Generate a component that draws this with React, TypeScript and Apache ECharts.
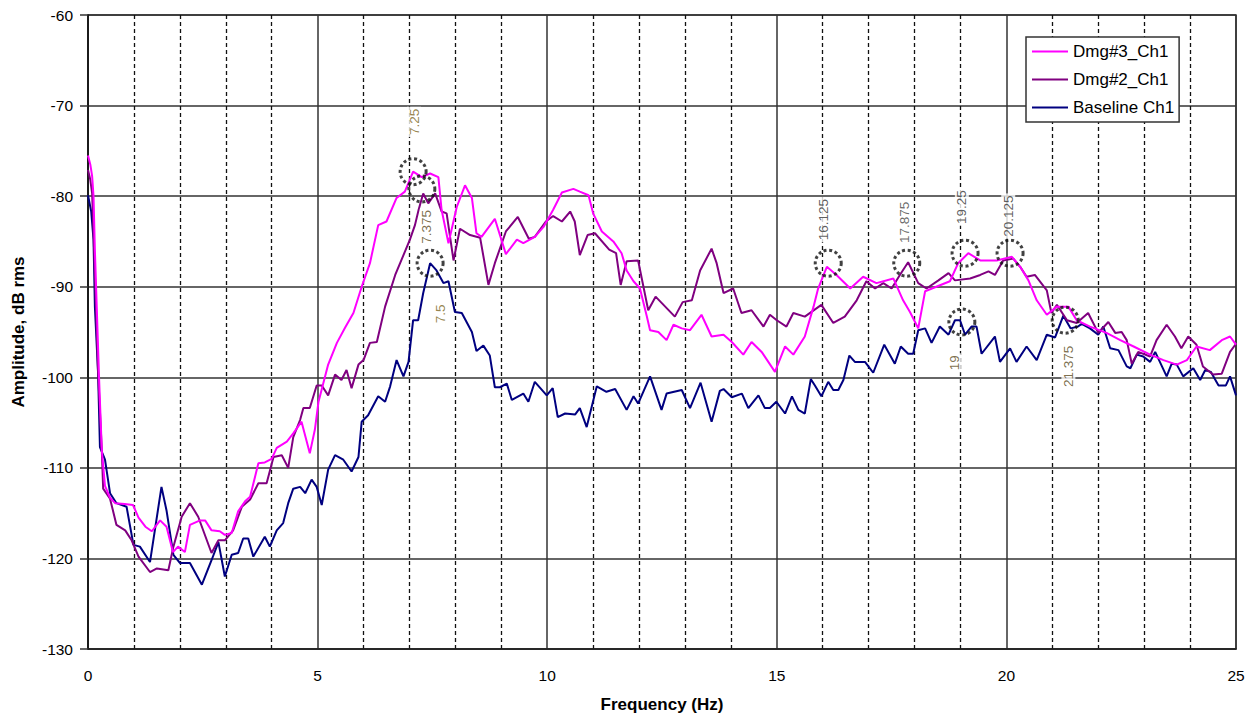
import React, { useEffect, useRef } from "react";
import * as echarts from "echarts";

// ---- Data (frequency in Hz, amplitude in dB rms) ----
const dmg3Freq = [0, 0.05, 0.09, 0.12, 0.15, 0.19, 0.24, 0.3, 0.37, 0.48, 0.59, 0.8, 0.98, 1.1, 1.25, 1.39, 1.57, 1.71, 1.85, 1.96, 2.11, 2.22, 2.44, 2.55, 2.69, 2.87, 2.98, 3.13, 3.27, 3.42, 3.53, 3.71, 3.85, 4.0, 4.11, 4.33, 4.47, 4.65, 4.83, 4.94, 5.02, 5.23, 5.42, 5.6, 5.78, 5.96, 6.14, 6.32, 6.5, 6.72, 6.9, 7.08, 7.27, 7.45, 7.63, 7.7, 7.85, 8.03, 8.21, 8.36, 8.46, 8.57, 8.86, 9.1, 9.34, 9.48, 9.73, 9.92, 10.13, 10.32, 10.57, 10.71, 10.9, 11.0, 11.19, 11.44, 11.62, 11.73, 11.88, 12.02, 12.17, 12.24, 12.42, 12.6, 12.75, 12.93, 13.11, 13.36, 13.58, 13.84, 14.02, 14.27, 14.45, 14.67, 14.96, 15.18, 15.36, 15.61, 15.8, 15.9, 16.09, 16.3, 16.6, 16.88, 17.17, 17.54, 17.75, 17.9, 18.08, 18.23, 18.77, 18.95, 19.17, 19.43, 19.79, 20.12, 20.3, 20.48, 20.66, 20.88, 21.1, 21.35, 21.53, 21.82, 22.18, 22.48, 22.77, 23.13, 23.42, 23.71, 23.93, 24.14, 24.43, 24.69, 24.87, 25];
const dmg3Amp = [-75.5, -76.5, -77.8, -80, -86, -92.2, -100, -108, -112, -113.3, -113.9, -114, -114.1, -115.5, -116.5, -117, -115.8, -116.5, -119.3, -118.7, -119.3, -116.3, -115.8, -115.8, -116.9, -117, -117.4, -117.2, -114.8, -113.7, -113.2, -109.5, -109.4, -109, -107.8, -107.1, -106.2, -104.9, -108.4, -105.8, -102.7, -98.6, -96.2, -94.5, -92.9, -90, -87.4, -83.2, -82.8, -80.2, -79.5, -77.3, -77.9, -77.5, -77.9, -81.5, -85.2, -81.2, -78.8, -80.2, -84.1, -84.5, -82.5, -86.4, -84.8, -85.2, -84.5, -83.4, -81.5, -79.6, -79.2, -79.5, -79.9, -81.9, -83.9, -85, -86.3, -88.2, -89.4, -90.2, -93.3, -94.8, -95, -95.9, -94.2, -94.6, -94.8, -93.1, -95.5, -95.3, -96.1, -97.5, -96.1, -97.2, -99.4, -96.6, -97.5, -95.5, -92.2, -90.2, -87.8, -88.7, -90.2, -88.9, -89.6, -89.1, -91.5, -92.8, -94.6, -90.5, -89.4, -87.4, -86.3, -87.1, -87.1, -86.7, -87.8, -89.3, -91.5, -93.1, -92.2, -92.2, -93.7, -94.4, -95.1, -95.9, -96.6, -97.5, -98.1, -98.6, -98.1, -96.6, -97, -95.9, -95.5, -96.4];

const dmg2Freq = [0, 0.05, 0.09, 0.15, 0.22, 0.3, 0.33, 0.48, 0.62, 0.81, 0.95, 1.1, 1.35, 1.5, 1.75, 1.86, 2.04, 2.22, 2.4, 2.69, 2.84, 2.98, 3.16, 3.35, 3.53, 3.71, 3.89, 4.04, 4.22, 4.36, 4.47, 4.62, 4.69, 4.83, 4.98, 5.09, 5.23, 5.38, 5.52, 5.63, 5.74, 5.89, 6.0, 6.14, 6.29, 6.47, 6.69, 6.87, 7.01, 7.12, 7.2, 7.3, 7.41, 7.56, 7.7, 7.81, 7.96, 8.1, 8.32, 8.54, 8.72, 8.86, 9.1, 9.36, 9.6, 9.73, 9.97, 10.13, 10.32, 10.5, 10.6, 10.71, 10.88, 11.04, 11.35, 11.5, 11.6, 11.73, 11.98, 12.2, 12.36, 12.78, 12.95, 13.15, 13.33, 13.58, 13.69, 13.84, 14.05, 14.23, 14.45, 14.71, 14.85, 15.0, 15.21, 15.36, 15.61, 15.97, 16.23, 16.48, 16.74, 16.95, 17.14, 17.32, 17.5, 17.68, 17.86, 18.08, 18.26, 18.52, 18.74, 18.88, 19.21, 19.43, 19.61, 19.75, 19.93, 20.15, 20.3, 20.44, 20.62, 20.88, 20.98, 21.1, 21.32, 21.53, 21.78, 22.0, 22.22, 22.37, 22.51, 22.62, 22.73, 22.87, 23.13, 23.27, 23.49, 23.67, 23.81, 23.96, 24.14, 24.28, 24.5, 24.69, 24.87, 25];
const dmg2Amp = [-77.1, -78.2, -79.7, -88.5, -99.5, -108, -112.3, -113.4, -116.3, -116.9, -118, -119.8, -121.5, -121.1, -121.3, -118.7, -115.4, -113.9, -115.4, -119.4, -118, -118, -116.9, -114.3, -113.5, -111.7, -111.7, -108.8, -108.6, -110, -106.6, -104.7, -103.4, -103.4, -100.9, -100.9, -102, -99.7, -100.3, -99.2, -101.2, -98.6, -98.1, -96.2, -96.1, -92.2, -88.7, -86.5, -84.8, -83.2, -81.5, -79.7, -80.8, -79.7, -81.7, -81.9, -87.1, -83.6, -84.3, -84.6, -89.8, -87.4, -83.9, -82.3, -84.7, -84.5, -82.8, -82.2, -82.8, -81.7, -82.8, -86.5, -84.3, -84.1, -85.9, -86.3, -89.8, -87.2, -87.1, -92.6, -91.1, -93.3, -91.7, -91.5, -88.2, -85.8, -87.4, -90.7, -90.2, -92.9, -92.6, -94.4, -93.1, -93.7, -94.4, -92.9, -93.3, -92, -94, -93.3, -91.5, -89.4, -90.2, -89.6, -90.2, -88.7, -87.3, -89.6, -90.2, -89.3, -88.5, -89.3, -89.1, -88.7, -88.3, -88.7, -87.1, -86.9, -87.8, -88.9, -88.7, -90.4, -92.9, -92, -93.7, -94, -92.9, -95.1, -93.9, -95.1, -95, -95.9, -98.5, -97.2, -97.7, -95.9, -94.2, -95.5, -96.8, -95.5, -96.4, -98.8, -99.7, -99.6, -97.2, -96.3];

const baseFreq = [0, 0.07, 0.12, 0.15, 0.22, 0.26, 0.37, 0.48, 0.62, 0.84, 0.99, 1.13, 1.35, 1.6, 1.71, 1.86, 2.0, 2.22, 2.48, 2.69, 2.84, 2.98, 3.13, 3.27, 3.38, 3.49, 3.6, 3.85, 3.96, 4.11, 4.25, 4.36, 4.47, 4.62, 4.73, 4.87, 4.98, 5.09, 5.23, 5.38, 5.56, 5.74, 5.89, 5.96, 6.1, 6.32, 6.47, 6.58, 6.72, 6.87, 6.98, 7.08, 7.19, 7.3, 7.45, 7.59, 7.74, 7.85, 7.99, 8.14, 8.36, 8.46, 8.61, 8.75, 8.86, 8.97, 9.12, 9.23, 9.48, 9.59, 9.73, 9.99, 10.12, 10.23, 10.39, 10.61, 10.71, 10.86, 11.08, 11.29, 11.48, 11.73, 11.88, 11.98, 12.24, 12.49, 12.6, 12.93, 13.11, 13.34, 13.58, 13.76, 13.84, 14.02, 14.24, 14.38, 14.6, 14.74, 14.85, 14.99, 15.18, 15.33, 15.47, 15.61, 15.74, 15.83, 15.97, 16.12, 16.23, 16.34, 16.45, 16.58, 16.7, 16.92, 17.1, 17.34, 17.57, 17.7, 17.86, 17.97, 18.08, 18.23, 18.37, 18.55, 18.74, 18.88, 18.99, 19.1, 19.24, 19.35, 19.46, 19.75, 19.86, 20.08, 20.22, 20.44, 20.66, 20.88, 21.06, 21.24, 21.4, 21.56, 21.64, 21.82, 22.0, 22.11, 22.26, 22.44, 22.62, 22.7, 22.84, 22.98, 23.13, 23.24, 23.49, 23.6, 23.71, 23.85, 24.07, 24.22, 24.33, 24.45, 24.62, 24.78, 24.87, 25];
const baseAmp = [-79.9, -81.7, -84.8, -92.2, -99.6, -107.7, -109.1, -112.8, -113.9, -114.3, -118.5, -118.7, -120.4, -112.1, -114.7, -119.6, -120.5, -120.5, -122.9, -120.2, -118.2, -122, -119.6, -119.4, -117.8, -117.8, -119.8, -117.6, -118.7, -116.9, -116.1, -113.9, -112.3, -112.1, -112.8, -111.3, -112.1, -114.1, -110.2, -108.6, -109.1, -110.4, -108.8, -104.9, -104.2, -102.1, -102.7, -101, -98.1, -99.9, -98.3, -93.7, -93.7, -90.7, -87.4, -88.2, -89.6, -89.4, -92.8, -92.9, -95, -97.1, -96.5, -97.6, -101.1, -101.1, -100.7, -102.5, -101.8, -102.7, -100.5, -102, -101.2, -104.4, -104, -104.1, -103.4, -105.5, -101, -101.6, -101.3, -103.6, -102.1, -102.9, -99.9, -103.6, -101.8, -101.4, -103.4, -100.6, -104.9, -101.5, -101.3, -102.2, -101.8, -103.4, -102, -103.4, -103.4, -102.7, -104, -102.1, -103.6, -104, -100.2, -100.9, -102.1, -100.5, -101.4, -101.4, -100.3, -97.6, -98.3, -98.3, -99.5, -96.4, -98.5, -96.6, -97.4, -97.4, -94.8, -94.6, -96.2, -94.4, -95.3, -93.7, -93.7, -95.3, -94.4, -94.4, -97.4, -95.5, -98.3, -96.8, -98.3, -96.6, -98.1, -95.3, -95.6, -93.2, -94.6, -94.4, -94.1, -94.6, -95.3, -94.4, -96.8, -97, -98.8, -99, -97.5, -97.7, -98.3, -97.2, -99.9, -98.5, -98.6, -99.9, -99, -100.3, -99.2, -99.4, -100.9, -100.9, -99.9, -102];

// Peak annotations: circle positions and label positions (data units)
const peakLabels = ["7.25", "7.375", "7.5", "16.125", "17.875", "19.25", "20.125", "19", "21.375"];
const peakCircleFreq = [7.08, 7.27, 7.45, 16.12, 17.83, 19.1, 20.08, 19.03, 21.28];
const peakCircleAmp = [-77.3, -79.2, -87.4, -87.4, -87.4, -86.3, -86.3, -93.9, -93.7];
const peakLabelFreq = [7.1, 7.38, 7.67, 16.02, 17.79, 19.03, 20.04, 18.86, 21.35];
const peakLabelAmp = [-71.8, -83.4, -93.0, -82.6, -82.9, -81.2, -82.2, -98.4, -98.8];
const peakLabelColors = ["#7a6420", "#5a4a20", "#7a6420", "#333333", "#444444", "#333333", "#333333", "#5a4a20", "#5a4a20"];

const seriesNames = ["Dmg#3_Ch1", "Dmg#2_Ch1", "Baseline Ch1"];
const seriesColors = ["#ff00ff", "#800080", "#000080"];

const FONT = '"Liberation Sans", Arial, sans-serif';

function pairs(xs: number[], ys: number[]) {
  return xs.map((x, i) => [x, ys[i]]);
}

export default function App() {
  const ref = useRef<HTMLDivElement>(null);
  useEffect(() => {
    if (!ref.current) return;
    const chart = echarts.init(ref.current, undefined, { renderer: "svg" });
    const lineData = [pairs(dmg3Freq, dmg3Amp), pairs(dmg2Freq, dmg2Amp), pairs(baseFreq, baseAmp)];
    const option: any = {
      animation: false,
      backgroundColor: "#ffffff",
      grid: {
        left: 88,
        top: 15,
        right: 19,
        bottom: 70,
        show: true,
        borderColor: "#333",
        borderWidth: 1.5,
      },
      legend: {
        data: seriesNames.map((n) => ({ name: n, icon: "rect" })),
        orient: "vertical",
        left: 1026,
        top: 37,
        padding: [6, 5, 6, 6],
        itemGap: 11,
        itemWidth: 36,
        itemHeight: 2,
        backgroundColor: "#ffffff",
        borderColor: "#333",
        borderWidth: 1.5,
        selectedMode: false,
        textStyle: { fontFamily: FONT, fontSize: 17, color: "#000" },
      },
      xAxis: {
        type: "value",
        min: 0,
        max: 25,
        interval: 5,
        name: "Frequency (Hz)",
        nameLocation: "middle",
        nameGap: 47,
        nameTextStyle: { fontFamily: FONT, fontSize: 17, fontWeight: "bold", color: "#000" },
        axisLine: { show: true, lineStyle: { color: "#222", width: 1.5 } },
        axisTick: { show: false },
        axisLabel: { fontFamily: FONT, fontSize: 15.5, color: "#000", margin: 18 },
        splitLine: { show: true, lineStyle: { color: "#333", width: 1.5 } },
        minorTick: { show: false, splitNumber: 5 },
        minorSplitLine: { show: true, lineStyle: { color: "#111", width: 1.3, type: [4, 3] } },
      },
      yAxis: {
        type: "value",
        min: -130,
        max: -60,
        interval: 10,
        name: "Amplitude, dB rms",
        nameLocation: "middle",
        nameGap: 61,
        nameRotate: 90,
        nameTextStyle: { fontFamily: FONT, fontSize: 17, fontWeight: "bold", color: "#000" },
        axisLine: { show: true, lineStyle: { color: "#111", width: 1.5 } },
        axisTick: { show: true, length: 8, lineStyle: { color: "#333", width: 1.5 } },
        axisLabel: { fontFamily: FONT, fontSize: 15.5, color: "#000", margin: 15 },
        splitLine: { show: true, lineStyle: { color: "#333", width: 1.5 } },
      },
      series: [
        ...seriesNames.map((name, i) => ({
          name,
          type: "line",
          data: lineData[i],
          symbol: "none",
          color: seriesColors[i],
          lineStyle: { width: 2, color: seriesColors[i] },
          z: 3 - i + 2,
        })),
        {
          name: "peakCircles",
          type: "scatter",
          data: pairs(peakCircleFreq, peakCircleAmp),
          symbol: "circle",
          symbolSize: 26,
          itemStyle: {
            color: "rgba(0,0,0,0)",
            borderColor: "#111",
            borderWidth: 3,
            borderType: [3, 2.6],
          },
          z: 8,
          silent: true,
        },
        {
          name: "peakLabels",
          type: "scatter",
          data: peakLabelFreq.map((f, i) => ({
            value: [f, peakLabelAmp[i]],
            name: peakLabels[i],
            label: { color: peakLabelColors[i] },
          })),
          symbolSize: 0.1,
          itemStyle: { color: "rgba(0,0,0,0)" },
          label: {
            show: true,
            position: "inside",
            rotate: 90,
            align: "center",
            verticalAlign: "middle",
            formatter: (p: any) => p.name,
            fontFamily: FONT,
            fontSize: 13.5,
            backgroundColor: "#ffffff",
            padding: [0, 2],
          },
          z: 9,
          silent: true,
        },
      ],
    };
    chart.setOption(option);
    return () => chart.dispose();
  }, []);
  return (
    <div
      ref={ref}
      style={{ position: "fixed", left: 0, top: 0, width: 1255, height: 719, background: "#fff" }}
    />
  );
}
